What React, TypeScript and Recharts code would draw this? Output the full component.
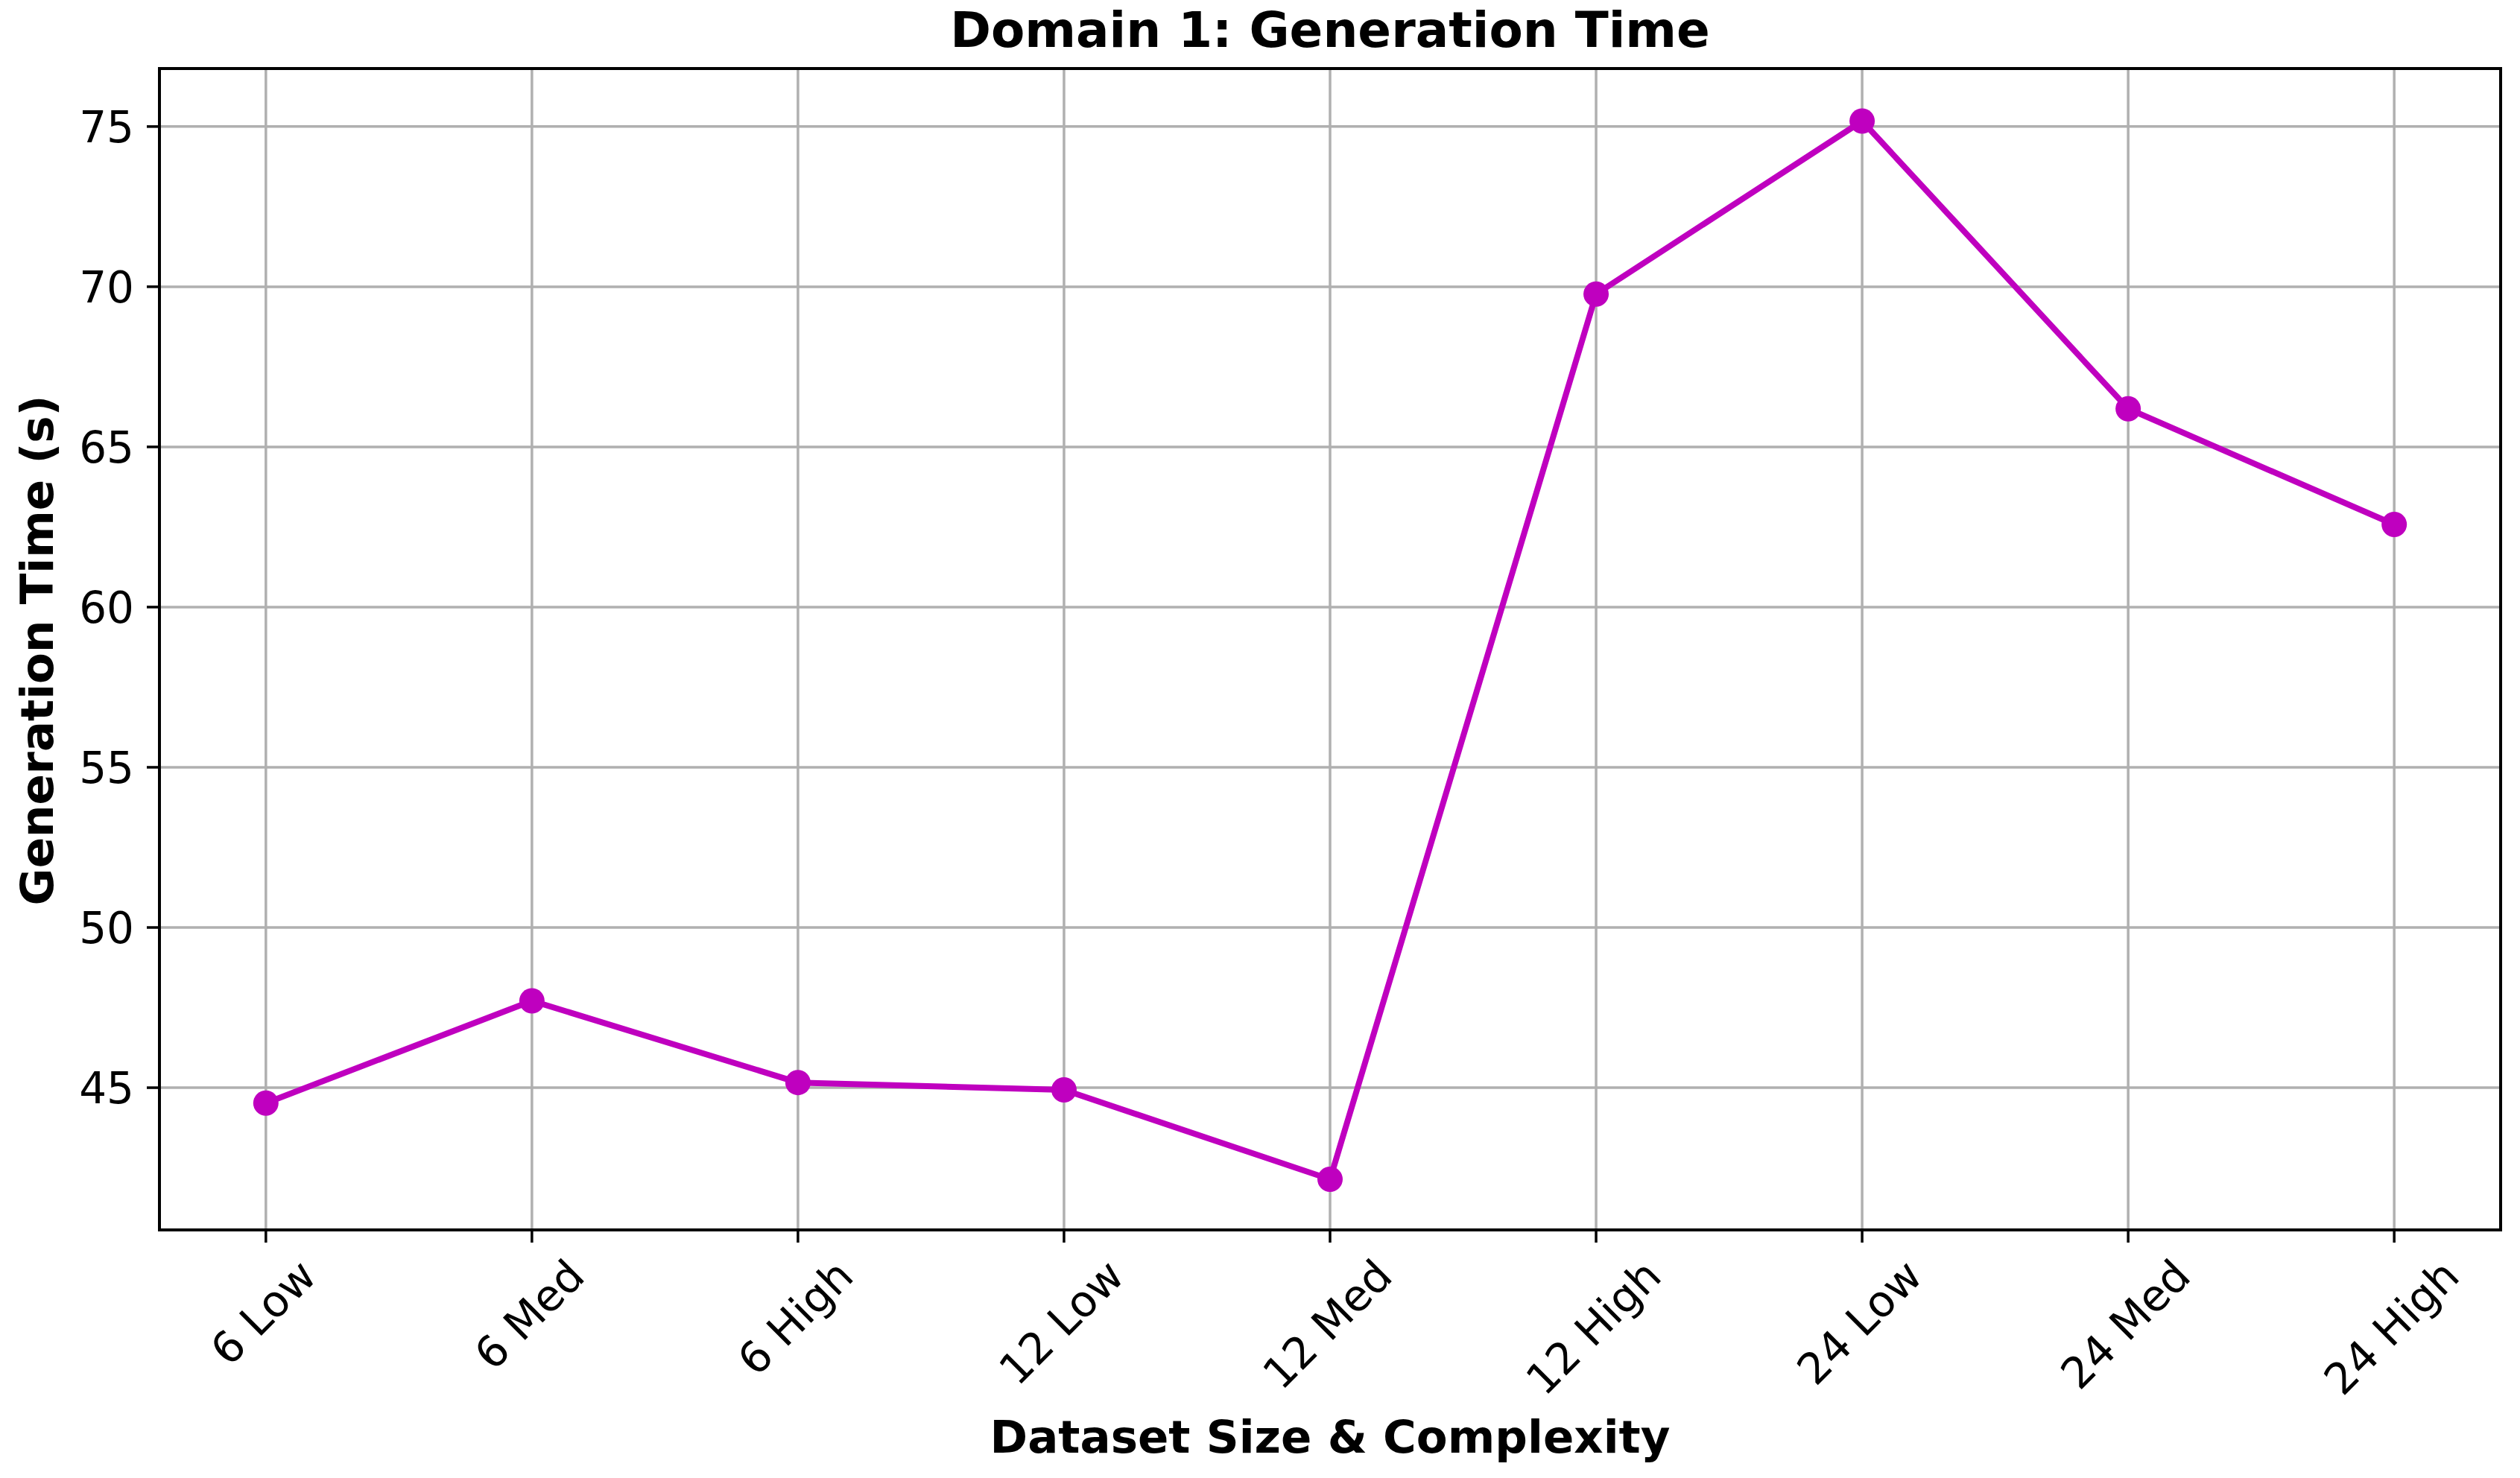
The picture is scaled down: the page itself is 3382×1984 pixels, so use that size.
import { LineChart, Line, XAxis, YAxis, CartesianGrid, ReferenceArea } from 'recharts'

const categories = ['6 Low', '6 Med', '6 High', '12 Low', '12 Med', '12 High', '24 Low', '24 Med', '24 High']
const genTime = [44.52, 47.71, 45.16, 44.93, 42.14, 69.77, 75.17, 66.19, 62.58]
const yTicks = [45, 50, 55, 60, 65, 70, 75]
const xTicks = categories.map((_, i) => i)
const yDomain = [40.56, 76.81]
const xDomain = [-0.4, 8.4]

const W = 3382
const H = 1984
const FONT = '"DejaVu Sans", sans-serif'
const TICK_FS = 58
const MAGENTA = '#bf00bf'

const data = categories.map((name, i) => ({ x: i, name, time: genTime[i] }))

let ctx: CanvasRenderingContext2D | null = null
function textWidth(text: string, fs: number) {
  if (!ctx) ctx = document.createElement('canvas').getContext('2d')
  if (!ctx) return text.length * fs * 0.6
  ctx.font = `${fs}px "DejaVu Sans"`
  return ctx.measureText(text).width
}

// matplotlib-style rotated label: rotated bbox centred on the tick, top at y
const XTick = ({ x, y, payload }: any) => {
  const label = categories[payload.value] ?? ''
  const w = textWidth(label, TICK_FS)
  const s = (w + TICK_FS) / Math.SQRT2
  return (
    <g transform={`translate(${x},${y + s / 2}) rotate(-45)`}>
      <text x={0} y={0} dy={TICK_FS * 0.26} textAnchor="middle" fontSize={TICK_FS} fontFamily={FONT} fill="#000">
        {label}
      </text>
    </g>
  )
}

const YTick = ({ x, y, payload }: any) => (
  <text x={x} y={y} dy={TICK_FS * 0.364} textAnchor="end" fontSize={TICK_FS} fontFamily={FONT} fill="#000">
    {payload.value}
  </text>
)

export default function App() {
  return (
    <div style={{ position: 'absolute', left: 0, top: 0, width: W, height: H, background: '#fff' }}>
      <LineChart width={W} height={H} data={data} margin={{ top: 92, right: 26, bottom: 0, left: 0 }}>
        <CartesianGrid stroke="#b0b0b0" strokeWidth={3.5} />
        <XAxis
          dataKey="x"
          type="number"
          domain={xDomain}
          ticks={xTicks}
          height={333}
          tickSize={17}
          tickMargin={17}
          tick={<XTick />}
          tickLine={{ stroke: '#000', strokeWidth: 3.5 }}
          axisLine={false}
          interval={0}
        />
        <YAxis
          type="number"
          domain={yDomain}
          ticks={yTicks}
          width={214}
          tickSize={17}
          tickMargin={17}
          tick={<YTick />}
          tickLine={{ stroke: '#000', strokeWidth: 3.5 }}
          axisLine={false}
          allowDataOverflow
        />
        <ReferenceArea
          x1={xDomain[0]}
          x2={xDomain[1]}
          y1={yDomain[0]}
          y2={yDomain[1]}
          stroke="#000"
          strokeWidth={4}
          fill="none"
          fillOpacity={0}
          ifOverflow="visible"
        />
        <Line
          type="linear"
          dataKey="time"
          stroke={MAGENTA}
          strokeWidth={8}
          dot={{ r: 17, fill: MAGENTA, stroke: 'none' }}
          activeDot={false}
          isAnimationActive={false}
        />
        <text x={1785} y={63} textAnchor="middle" fontSize={66} fontWeight="bold" fontFamily={FONT} fill="#000">
          Domain 1: Generation Time
        </text>
        <text x={1785} y={1950} textAnchor="middle" fontSize={61} fontWeight="bold" fontFamily={FONT} fill="#000">
          Dataset Size &amp; Complexity
        </text>
        <text
          transform="translate(71,873) rotate(-90)"
          x={0}
          y={0}
          textAnchor="middle"
          fontSize={61}
          fontWeight="bold"
          fontFamily={FONT}
          fill="#000"
        >
          Generation Time (s)
        </text>
      </LineChart>
    </div>
  )
}
